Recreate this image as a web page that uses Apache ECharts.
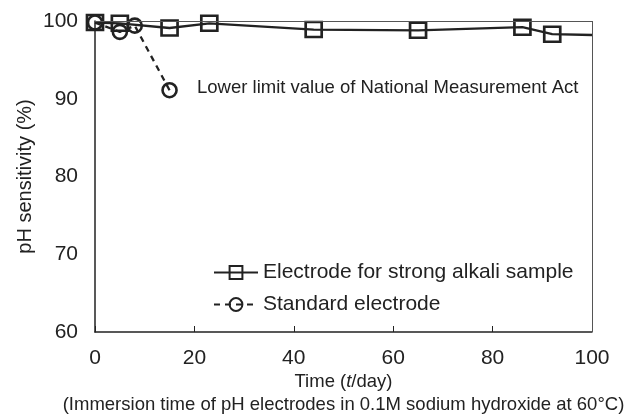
<!DOCTYPE html>
<html>
<head>
<meta charset="utf-8">
<script src="https://cdn.jsdelivr.net/npm/echarts@6/dist/echarts.min.js"></script>
<style>
  html, body { margin: 0; padding: 0; background: #fff; }
  #main { width: 638px; height: 416px; }
</style>
</head>
<body>
<div id="main"></div>
<script>
// days of immersion and pH sensitivity (%)
var alkaliDays = [0, 5, 15, 23, 44, 65, 86, 92, 100];
var alkaliValues = [99.8, 99.7, 99.1, 99.7, 98.9, 98.8, 99.2, 98.3, 98.2];
var standardDays = [0, 5, 8, 15];
var standardValues = [99.8, 98.6, 99.4, 91.1];
var seriesNames = ['Electrode for strong alkali sample', 'Standard electrode'];
var noteText = 'Lower limit value of National Measurement Act';

var font = 'Liberation Sans, Arial, Helvetica, sans-serif';
var ink = '#222';

function pairs(xs, ys) {
  return xs.map(function (x, i) { return [x, ys[i]]; });
}

var alkaliData = pairs(alkaliDays, alkaliValues);
// last point only carries the line to the frame edge
alkaliData[alkaliData.length - 1] = { value: alkaliData[alkaliData.length - 1], symbol: 'none' };

var chart = echarts.init(document.getElementById('main'), null, { renderer: 'canvas' });

chart.setOption({
  animation: false,
  backgroundColor: '#fff',
  textStyle: { fontFamily: font, color: ink },
  grid: { left: 95, right: 46, top: 21, bottom: 84, outerBoundsMode: 'none' },
  legend: {
    orient: 'vertical',
    left: 208,
    top: 257,
    itemWidth: 44,
    itemHeight: 16,
    itemGap: 11,
    textStyle: { fontFamily: font, fontSize: 21, color: ink },
    data: seriesNames
  },
  graphic: [{
    type: 'text',
    left: 197,
    top: 78,
    style: { text: noteText, font: '18.5px ' + font, fill: ink }
  }],
  xAxis: {
    type: 'value',
    min: 0,
    max: 100,
    interval: 20,
    name: 'Time ({i|t}/day)\n(Immersion time of pH electrodes in 0.1M sodium hydroxide at 60°C)',
    nameLocation: 'middle',
    nameGap: 38,
    nameMoveOverlap: false,
    nameTextStyle: {
      fontFamily: font, fontSize: 18.5, color: ink, lineHeight: 23,
      verticalAlign: 'top',
      rich: { i: { fontStyle: 'italic', fontFamily: font, fontSize: 18.5, color: ink, lineHeight: 23 } }
    },
    axisLine: { show: true, onZero: false, lineStyle: { color: ink, width: 1.5 } },
    axisTick: { show: true, inside: true, length: 6, lineStyle: { color: ink } },
    axisLabel: { fontFamily: font, fontSize: 21, color: ink, margin: 16 },
    splitLine: { show: false }
  },
  yAxis: {
    type: 'value',
    min: 60,
    max: 100,
    interval: 10,
    name: 'pH sensitivity (%)',
    nameLocation: 'middle',
    nameGap: 60,
    nameMoveOverlap: false,
    nameTextStyle: { fontFamily: font, fontSize: 20, color: ink },
    axisLine: { show: true, onZero: false, lineStyle: { color: ink, width: 1.5 } },
    axisTick: { show: false },
    axisLabel: { fontFamily: font, fontSize: 21, color: ink, margin: 17 },
    splitLine: { show: false }
  },
  series: [{
    name: seriesNames[0],
    type: 'line',
    data: alkaliData,
    symbol: 'rect',
    symbolSize: [16, 15],
    z: 3,
    lineStyle: { color: ink, width: 2.3 },
    itemStyle: { color: 'transparent', borderColor: ink, borderWidth: 2.6 },
    // top and right frame lines
    markLine: {
      silent: true,
      symbol: 'none',
      label: { show: false },
      lineStyle: { color: '#555', width: 1, type: 'solid' },
      data: [
        [{ coord: [0, 100] }, { coord: [100, 100] }],
        [{ coord: [100, 60] }, { coord: [100, 100] }]
      ]
    }
  }, {
    name: seriesNames[1],
    type: 'line',
    data: pairs(standardDays, standardValues),
    symbol: 'circle',
    symbolSize: 14,
    z: 4,
    lineStyle: { color: ink, width: 2.3, type: [6, 5] },
    itemStyle: { color: 'transparent', borderColor: ink, borderWidth: 2.6 }
  }]
});
</script>
</body>
</html>
